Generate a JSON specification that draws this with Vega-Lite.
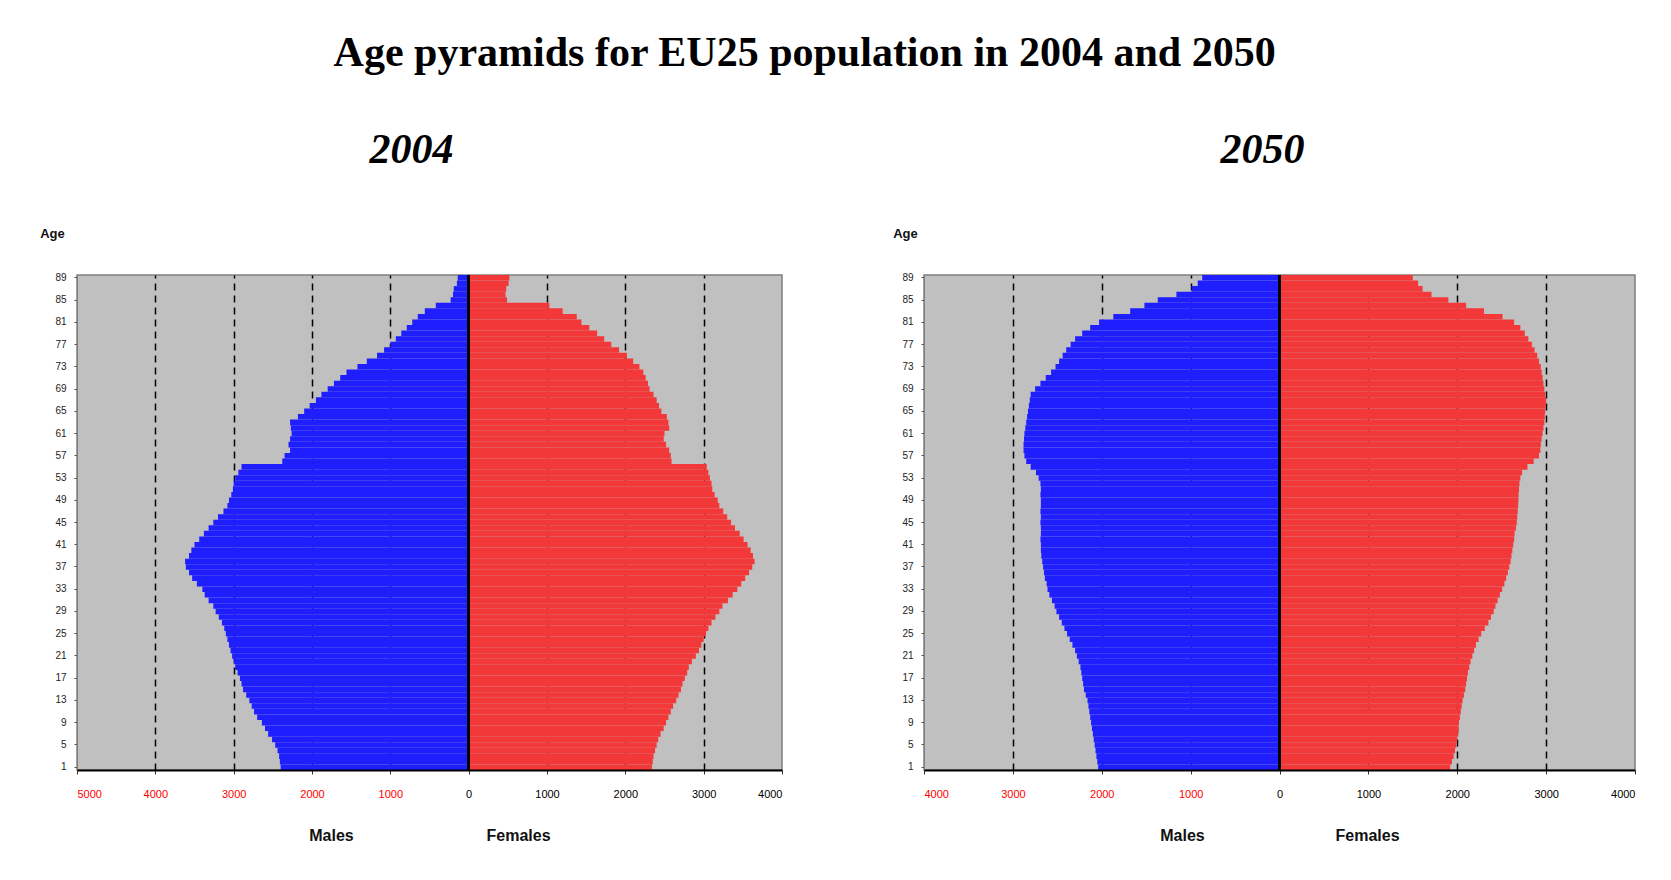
{
  "$schema": "https://vega.github.io/schema/vega-lite/v6.json",
  "background": "white",
  "padding": {"left": 38, "top": 32, "right": 30, "bottom": 30},
  "title": {"text": "Age pyramids for EU25 population in 2004 and 2050", "font": "Liberation Serif", "fontSize": 42, "fontWeight": "bold", "color": "black", "anchor": "middle", "offset": 53, "dx": -33},
  "datasets": {
    "y2004": [
      {"age":1,"male":-2400,"female":2340},{"age":2,"male":-2410,"female":2350},{"age":3,"male":-2420,"female":2360},{"age":4,"male":-2440,"female":2380},{"age":5,"male":-2470,"female":2400},
      {"age":6,"male":-2510,"female":2420},{"age":7,"male":-2560,"female":2450},{"age":8,"male":-2600,"female":2490},{"age":9,"male":-2640,"female":2520},{"age":10,"male":-2700,"female":2550},
      {"age":11,"male":-2740,"female":2580},{"age":12,"male":-2770,"female":2610},{"age":13,"male":-2800,"female":2650},{"age":14,"male":-2840,"female":2680},{"age":15,"male":-2880,"female":2710},
      {"age":16,"male":-2900,"female":2730},{"age":17,"male":-2920,"female":2760},{"age":18,"male":-2950,"female":2790},{"age":19,"male":-2980,"female":2810},{"age":20,"male":-3000,"female":2850},
      {"age":21,"male":-3020,"female":2900},{"age":22,"male":-3040,"female":2940},{"age":23,"male":-3060,"female":2970},{"age":24,"male":-3080,"female":3000},{"age":25,"male":-3100,"female":3030},
      {"age":26,"male":-3120,"female":3060},{"age":27,"male":-3150,"female":3100},{"age":28,"male":-3190,"female":3150},{"age":29,"male":-3230,"female":3200},{"age":30,"male":-3260,"female":3240},
      {"age":31,"male":-3320,"female":3310},{"age":32,"male":-3370,"female":3370},{"age":33,"male":-3400,"female":3430},{"age":34,"male":-3470,"female":3480},{"age":35,"male":-3530,"female":3530},
      {"age":36,"male":-3570,"female":3580},{"age":37,"male":-3610,"female":3620},{"age":38,"male":-3620,"female":3650},{"age":39,"male":-3570,"female":3630},{"age":40,"male":-3540,"female":3600},
      {"age":41,"male":-3500,"female":3560},{"age":42,"male":-3440,"female":3510},{"age":43,"male":-3380,"female":3460},{"age":44,"male":-3320,"female":3400},{"age":45,"male":-3260,"female":3350},
      {"age":46,"male":-3200,"female":3300},{"age":47,"male":-3130,"female":3250},{"age":48,"male":-3080,"female":3200},{"age":49,"male":-3060,"female":3180},{"age":50,"male":-3030,"female":3140},
      {"age":51,"male":-3010,"female":3110},{"age":52,"male":-3000,"female":3100},{"age":53,"male":-2980,"female":3080},{"age":54,"male":-2940,"female":3060},{"age":55,"male":-2900,"female":3040},
      {"age":56,"male":-2380,"female":2590},{"age":57,"male":-2350,"female":2580},{"age":58,"male":-2280,"female":2560},{"age":59,"male":-2300,"female":2520},{"age":60,"male":-2280,"female":2490},
      {"age":61,"male":-2260,"female":2500},{"age":62,"male":-2270,"female":2560},{"age":63,"male":-2280,"female":2550},{"age":64,"male":-2180,"female":2530},{"age":65,"male":-2100,"female":2460},
      {"age":66,"male":-2030,"female":2430},{"age":67,"male":-1950,"female":2400},{"age":68,"male":-1880,"female":2360},{"age":69,"male":-1800,"female":2310},{"age":70,"male":-1720,"female":2290},
      {"age":71,"male":-1640,"female":2260},{"age":72,"male":-1560,"female":2230},{"age":73,"male":-1420,"female":2180},{"age":74,"male":-1300,"female":2100},{"age":75,"male":-1170,"female":2020},
      {"age":76,"male":-1080,"female":1920},{"age":77,"male":-1000,"female":1820},{"age":78,"male":-930,"female":1730},{"age":79,"male":-860,"female":1640},{"age":80,"male":-790,"female":1540},
      {"age":81,"male":-720,"female":1440},{"age":82,"male":-650,"female":1380},{"age":83,"male":-560,"female":1200},{"age":84,"male":-420,"female":1030},{"age":85,"male":-230,"female":490},
      {"age":86,"male":-200,"female":470},{"age":87,"male":-190,"female":480},{"age":88,"male":-150,"female":510},{"age":89,"male":-140,"female":520}
    ],
    "y2050": [
      {"age":1,"male":-2040,"female":1920},{"age":2,"male":-2050,"female":1940},{"age":3,"male":-2060,"female":1960},{"age":4,"male":-2070,"female":1975},{"age":5,"male":-2080,"female":1990},
      {"age":6,"male":-2090,"female":2000},{"age":7,"male":-2100,"female":2010},{"age":8,"male":-2110,"female":2015},{"age":9,"male":-2120,"female":2020},{"age":10,"male":-2130,"female":2030},
      {"age":11,"male":-2140,"female":2040},{"age":12,"male":-2150,"female":2050},{"age":13,"male":-2160,"female":2060},{"age":14,"male":-2180,"female":2075},{"age":15,"male":-2200,"female":2090},
      {"age":16,"male":-2210,"female":2100},{"age":17,"male":-2220,"female":2110},{"age":18,"male":-2230,"female":2120},{"age":19,"male":-2240,"female":2135},{"age":20,"male":-2260,"female":2150},
      {"age":21,"male":-2280,"female":2170},{"age":22,"male":-2300,"female":2190},{"age":23,"male":-2330,"female":2210},{"age":24,"male":-2360,"female":2240},{"age":25,"male":-2390,"female":2270},
      {"age":26,"male":-2420,"female":2310},{"age":27,"male":-2450,"female":2350},{"age":28,"male":-2480,"female":2380},{"age":29,"male":-2510,"female":2410},{"age":30,"male":-2530,"female":2430},
      {"age":31,"male":-2560,"female":2455},{"age":32,"male":-2590,"female":2480},{"age":33,"male":-2610,"female":2505},{"age":34,"male":-2620,"female":2530},{"age":35,"male":-2640,"female":2550},
      {"age":36,"male":-2650,"female":2570},{"age":37,"male":-2660,"female":2585},{"age":38,"male":-2670,"female":2600},{"age":39,"male":-2680,"female":2610},{"age":40,"male":-2685,"female":2620},
      {"age":41,"male":-2685,"female":2630},{"age":42,"male":-2690,"female":2640},{"age":43,"male":-2685,"female":2645},{"age":44,"male":-2685,"female":2660},{"age":45,"male":-2690,"female":2670},
      {"age":46,"male":-2685,"female":2675},{"age":47,"male":-2690,"female":2680},{"age":48,"male":-2685,"female":2685},{"age":49,"male":-2685,"female":2688},{"age":50,"male":-2690,"female":2690},
      {"age":51,"male":-2685,"female":2695},{"age":52,"male":-2690,"female":2700},{"age":53,"male":-2710,"female":2710},{"age":54,"male":-2740,"female":2730},{"age":55,"male":-2800,"female":2790},
      {"age":56,"male":-2850,"female":2860},{"age":57,"male":-2870,"female":2920},{"age":58,"male":-2880,"female":2935},{"age":59,"male":-2880,"female":2940},{"age":60,"male":-2875,"female":2950},
      {"age":61,"male":-2870,"female":2960},{"age":62,"male":-2860,"female":2970},{"age":63,"male":-2850,"female":2980},{"age":64,"male":-2840,"female":2985},{"age":65,"male":-2830,"female":2990},
      {"age":66,"male":-2820,"female":2995},{"age":67,"male":-2810,"female":3000},{"age":68,"male":-2800,"female":2990},{"age":69,"male":-2750,"female":2980},{"age":70,"male":-2690,"female":2970},
      {"age":71,"male":-2630,"female":2960},{"age":72,"male":-2570,"female":2950},{"age":73,"male":-2520,"female":2940},{"age":74,"male":-2480,"female":2920},{"age":75,"male":-2440,"female":2900},
      {"age":76,"male":-2400,"female":2870},{"age":77,"male":-2350,"female":2840},{"age":78,"male":-2300,"female":2800},{"age":79,"male":-2220,"female":2760},{"age":80,"male":-2130,"female":2710},
      {"age":81,"male":-2030,"female":2640},{"age":82,"male":-1870,"female":2510},{"age":83,"male":-1680,"female":2300},{"age":84,"male":-1520,"female":2100},{"age":85,"male":-1370,"female":1900},
      {"age":86,"male":-1160,"female":1710},{"age":87,"male":-990,"female":1610},{"age":88,"male":-920,"female":1560},{"age":89,"male":-870,"female":1500}
    ]
  },
  "spacing": 142,
  "bounds": "flush",
  "hconcat": [
    {
      "title": {"text": "2004", "font": "Liberation Serif", "fontSize": 42, "fontWeight": "bold", "fontStyle": "italic", "color": "black", "offset": 55, "dx": -18},
      "width": 705,
      "height": 495,
      "data": {"name": "y2004"},
      "layer": [
        {
          "mark": {"type": "bar", "color": "#1e1eff"},
          "encoding": {
            "y": {"field": "age", "type": "ordinal", "sort": "descending", "scale": {"paddingInner": 0, "paddingOuter": 0},
              "axis": {"values": [1,5,9,13,17,21,25,29,33,37,41,45,49,53,57,61,65,69,73,77,81,85,89], "title": "Age", "titleAngle": 0, "titleX": -25, "titleY": -42, "titleAlign": "center", "titleBaseline": "middle", "titleFontSize": 13, "titleFontWeight": "bold", "labelFontSize": 10, "labelColor": "#222222", "tickSize": 3, "tickColor": "#555555", "domainColor": "#7f7f7f", "labelPadding": 8, "grid": false}},
            "x": {"field": "male", "type": "quantitative", "scale": {"domain": [-5000, 4000], "nice": false},
              "axis": {"values": [-5000,-4000,-3000,-2000,-1000,0,1000,2000,3000,4000], "labelExpr": "abs(datum.value)", "labelColor": {"condition": {"test": "datum.value < 0", "value": "#ff0000"}, "value": "#000000"}, "labelFontSize": 11, "labelPadding": 14, "tickSize": 4, "tickColor": "#333333", "domain": false, "grid": true, "gridDash": [7, 5], "gridColor": "#000000", "gridWidth": 1.5, "gridOpacity": {"condition": {"test": "datum.value == 0 || datum.value == -5000 || datum.value == 4000", "value": 0}, "value": 1}, "title": "Males", "titleX": 254, "titleY": 65, "titleAlign": "center", "titleBaseline": "middle", "titleFontSize": 16, "titleFontWeight": "bold"}}
          }
        },
        {
          "mark": {"type": "bar", "color": "#f23838"},
          "encoding": {
            "y": {"field": "age", "type": "ordinal", "sort": "descending", "scale": {"paddingInner": 0, "paddingOuter": 0},
              "axis": {"values": [1,5,9,13,17,21,25,29,33,37,41,45,49,53,57,61,65,69,73,77,81,85,89], "title": "Age", "titleAngle": 0, "titleX": -25, "titleY": -42, "titleAlign": "center", "titleBaseline": "middle", "titleFontSize": 13, "titleFontWeight": "bold", "labelFontSize": 10, "labelColor": "#222222", "tickSize": 3, "tickColor": "#555555", "domainColor": "#7f7f7f", "labelPadding": 8, "grid": false}},
            "x": {"field": "female", "type": "quantitative", "scale": {"domain": [-5000, 4000], "nice": false},
              "axis": {"orient": "bottom", "labels": false, "ticks": false, "grid": false, "domain": true, "domainColor": "#000000", "domainWidth": 2, "zindex": 1, "title": "Females", "titleX": 441, "titleY": 65, "titleAlign": "center", "titleBaseline": "middle", "titleFontSize": 16, "titleFontWeight": "bold"}}
          }
        },
        {
          "mark": {"type": "rule", "color": "#000000", "strokeWidth": 2},
          "encoding": {"x": {"datum": 0, "type": "quantitative", "scale": {"domain": [-5000, 4000], "nice": false}, "axis": null}}
        }
      ],
      "resolve": {"scale": {"x": "independent"}, "axis": {"x": "independent"}}
    },
    {
      "title": {"text": "2050", "font": "Liberation Serif", "fontSize": 42, "fontWeight": "bold", "fontStyle": "italic", "color": "black", "offset": 55, "dx": -17},
      "width": 711,
      "height": 495,
      "data": {"name": "y2050"},
      "layer": [
        {
          "mark": {"type": "bar", "color": "#1e1eff"},
          "encoding": {
            "y": {"field": "age", "type": "ordinal", "sort": "descending", "scale": {"paddingInner": 0, "paddingOuter": 0},
              "axis": {"values": [1,5,9,13,17,21,25,29,33,37,41,45,49,53,57,61,65,69,73,77,81,85,89], "title": "Age", "titleAngle": 0, "titleX": -19, "titleY": -42, "titleAlign": "center", "titleBaseline": "middle", "titleFontSize": 13, "titleFontWeight": "bold", "labelFontSize": 10, "labelColor": "#222222", "tickSize": 3, "tickColor": "#555555", "domainColor": "#7f7f7f", "labelPadding": 8, "grid": false}},
            "x": {"field": "male", "type": "quantitative", "scale": {"domain": [-4000, 4000], "nice": false},
              "axis": {"values": [-4000,-3000,-2000,-1000,0,1000,2000,3000,4000], "labelExpr": "abs(datum.value)", "labelColor": {"condition": {"test": "datum.value < 0", "value": "#ff0000"}, "value": "#000000"}, "labelFontSize": 11, "labelPadding": 14, "tickSize": 4, "tickColor": "#333333", "domain": false, "grid": true, "gridDash": [7, 5], "gridColor": "#000000", "gridWidth": 1.5, "gridOpacity": {"condition": {"test": "datum.value == 0 || datum.value == -4000 || datum.value == 4000", "value": 0}, "value": 1}, "title": "Males", "titleX": 258, "titleY": 65, "titleAlign": "center", "titleBaseline": "middle", "titleFontSize": 16, "titleFontWeight": "bold"}}
          }
        },
        {
          "mark": {"type": "bar", "color": "#f23838"},
          "encoding": {
            "y": {"field": "age", "type": "ordinal", "sort": "descending", "scale": {"paddingInner": 0, "paddingOuter": 0},
              "axis": {"values": [1,5,9,13,17,21,25,29,33,37,41,45,49,53,57,61,65,69,73,77,81,85,89], "title": "Age", "titleAngle": 0, "titleX": -19, "titleY": -42, "titleAlign": "center", "titleBaseline": "middle", "titleFontSize": 13, "titleFontWeight": "bold", "labelFontSize": 10, "labelColor": "#222222", "tickSize": 3, "tickColor": "#555555", "domainColor": "#7f7f7f", "labelPadding": 8, "grid": false}},
            "x": {"field": "female", "type": "quantitative", "scale": {"domain": [-4000, 4000], "nice": false},
              "axis": {"orient": "bottom", "labels": false, "ticks": false, "grid": false, "domain": true, "domainColor": "#000000", "domainWidth": 2, "zindex": 1, "title": "Females", "titleX": 443, "titleY": 65, "titleAlign": "center", "titleBaseline": "middle", "titleFontSize": 16, "titleFontWeight": "bold"}}
          }
        },
        {
          "mark": {"type": "rule", "color": "#000000", "strokeWidth": 2},
          "encoding": {"x": {"datum": 0, "type": "quantitative", "scale": {"domain": [-4000, 4000], "nice": false}, "axis": null}}
        }
      ],
      "resolve": {"scale": {"x": "independent"}, "axis": {"x": "independent"}}
    }
  ],
  "config": {
    "view": {"fill": "#c0c0c0", "stroke": "#7f7f7f", "strokeWidth": 1.5},
    "axis": {"labelFont": "Liberation Sans", "titleFont": "Liberation Sans", "titleColor": "#111111"},
    "title": {"font": "Liberation Serif"}
  }
}
